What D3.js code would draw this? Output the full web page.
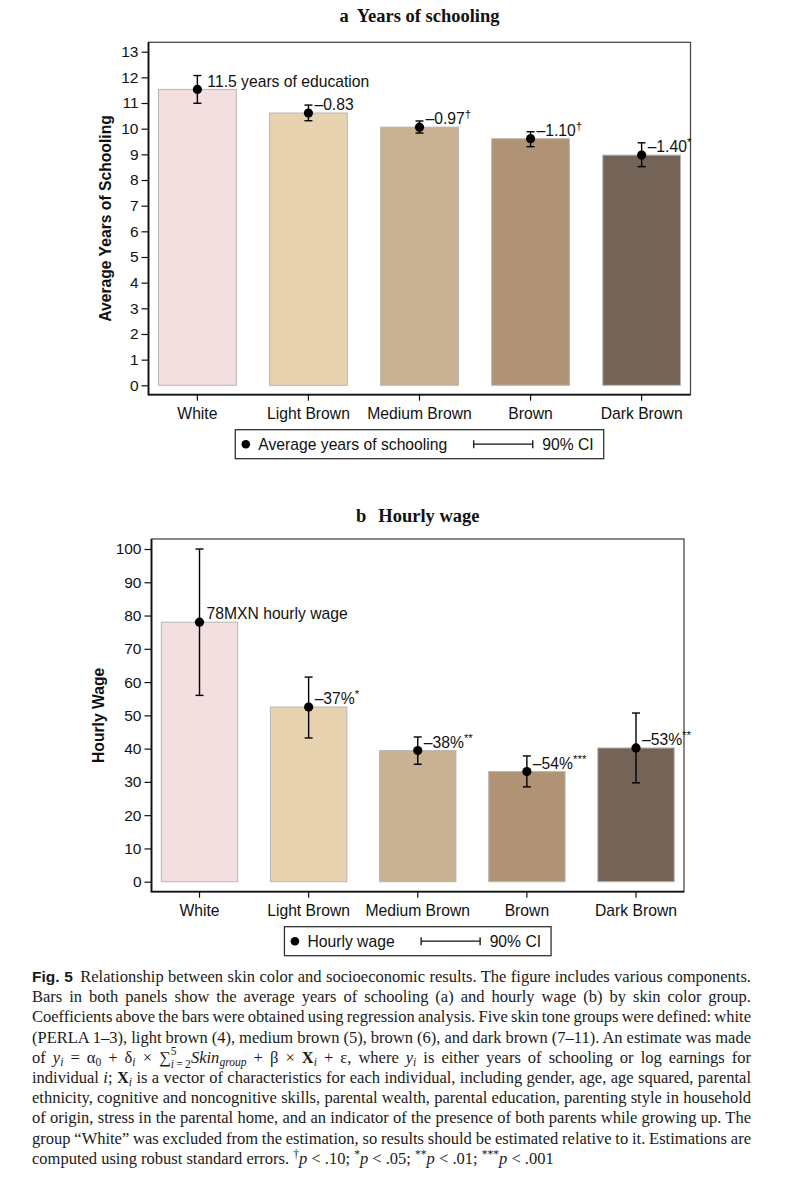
<!DOCTYPE html>
<html>
<head>
<meta charset="utf-8">
<title>Fig. 5 Skin color and socioeconomic results</title>
<script src="https://cdn.jsdelivr.net/npm/d3@7"></script>
<style>
  body { margin: 0; background: #fff; }
  svg { position: absolute; left: 0; top: 0; }
  .tick text { font-family: "Liberation Sans", Arial, sans-serif; font-size: 15.5px; fill: #111; }
  .tick line { stroke: #111; stroke-width: 1.2px; }
  .lab { font-family: "Liberation Sans", Arial, sans-serif; font-size: 15.7px; fill: #111; }
  .ptitle { font-family: "Liberation Serif", "Times New Roman", serif; font-weight: bold; font-size: 18.5px; fill: #111; }
  .ytitle { font-family: "Liberation Sans", Arial, sans-serif; font-weight: bold; font-size: 15.7px; fill: #111; }
  #caption { position: absolute; left: 32px; top: 967px; width: 719px;
    font-family: "Liberation Serif", "Times New Roman", serif; font-size: 16.5px; color: #1a1a1a; }
  #caption .ln { height: 20.2px; line-height: 20.2px; white-space: nowrap; }
  #caption .in { display: inline-block; white-space: nowrap; }
  #caption .fig { font-family: "Liberation Sans", Arial, sans-serif; font-size: 15.5px; margin-right: 3px; }
  #caption sub, #caption sup { font-size: 70%; line-height: 0; }
  #caption sub { vertical-align: -0.3em; }
  #caption sup { vertical-align: 0.5em; }
  #caption .lim { display: inline-block; position: relative; width: 1.75em; height: 0; font-size: 70%; }
  #caption .lu, #caption .ld { position: absolute; left: 0; line-height: 1; }
  #caption .lu { bottom: 0.45em; }
  #caption .ld { top: -0.3em; }
</style>
</head>
<body>
<div id="caption">
<div class="ln"><span class="in"><b class="fig">Fig. 5</b> Relationship between skin color and socioeconomic results. The figure includes various components.</span></div>
<div class="ln"><span class="in">Bars in both panels show the average years of schooling (a) and hourly wage (b) by skin color group.</span></div>
<div class="ln"><span class="in">Coefficients above the bars were obtained using regression analysis. Five skin tone groups were defined: white</span></div>
<div class="ln"><span class="in">(PERLA 1–3), light brown (4), medium brown (5), brown (6), and dark brown (7–11). An estimate was made</span></div>
<div class="ln"><span class="in">of <i>y</i><sub><i>i</i></sub> = α<sub>0</sub> + δ<sub><i>i</i></sub> × ∑<span class="lim"><span class="lu">5</span><span class="ld"><i>i</i>&#8201;=&#8201;2</span></span><i>Skin</i><sub><i>group</i></sub> + β × <b>X</b><sub><i>i</i></sub> + ε, where <i>y</i><sub><i>i</i></sub> is either years of schooling or log earnings for</span></div>
<div class="ln"><span class="in">individual <i>i</i>; <b>X</b><sub><i>i</i></sub> is a vector of characteristics for each individual, including gender, age, age squared, parental</span></div>
<div class="ln"><span class="in">ethnicity, cognitive and noncognitive skills, parental wealth, parental education, parenting style in household</span></div>
<div class="ln"><span class="in">of origin, stress in the parental home, and an indicator of the presence of both parents while growing up. The</span></div>
<div class="ln"><span class="in">group “White” was excluded from the estimation, so results should be estimated relative to it. Estimations are</span></div>
<div class="ln"><span class="in">computed using robust standard errors. <sup>†</sup><i>p</i> &lt; .10; <sup>*</sup><i>p</i> &lt; .05; <sup>**</sup><i>p</i> &lt; .01; <sup>***</sup><i>p</i> &lt; .001</span></div>
</div>
<script>
const groups = ["White", "Light Brown", "Medium Brown", "Brown", "Dark Brown"];
const skinColors = ["#f3dfdf", "#e8d3b1", "#c9b194", "#b09375", "#746357"];

// panel a: years of schooling
const schoolMean = [11.53, 10.61, 10.06, 9.61, 8.97];
const schoolLow = [10.99, 10.31, 9.83, 9.30, 8.52];
const schoolHigh = [12.07, 10.92, 10.30, 9.88, 9.45];
const schoolNote = ["11.5 years of education", "–0.83", "–0.97", "–1.10", "–1.40"];
const schoolSig = ["", "", "†", "†", "*"];
const schoolTicks = [0, 1, 2, 3, 4, 5, 6, 7, 8, 9, 10, 11, 12, 13];

// panel b: hourly wage
const wageMean = [78.0, 52.5, 39.4, 33.1, 40.2];
const wageLow = [56.0, 43.2, 35.3, 28.5, 29.7];
const wageHigh = [100.0, 61.5, 43.5, 37.8, 50.7];
const wageNote = ["78MXN hourly wage", "–37%", "–38%", "–54%", "–53%"];
const wageSig = ["", "*", "**", "***", "**"];
const wageTicks = [0, 10, 20, 30, 40, 50, 60, 70, 80, 90, 100];

var svg = d3.select("body").append("svg")
	.attr("width", 788)
	.attr("height", 965);

function panel(o) {
	var g = svg.append("g");
	var rows = groups.map(function(name, i) {
		return {name: name, color: skinColors[i], mean: o.mean[i], lo: o.low[i], hi: o.high[i], note: o.note[i], sig: o.sig[i], i: i};
	});

	var x = d3.scaleBand().domain(groups)
		.range([o.left, o.right])
		.paddingInner(0.3).paddingOuter(0.09);
	var y = d3.scaleLinear().domain([0, o.max])
		.range([o.bottom - o.pad, o.top + o.pad]);
	var cx = function(d) { return x(d.name) + x.bandwidth() / 2; };
	var mid = (o.left + o.right) / 2;

	// title
	var t = g.append("text").attr("class", "ptitle")
		.attr("x", mid).attr("y", o.titleY)
		.attr("text-anchor", "middle");
	t.append("tspan").text(o.titleKey);
	t.append("tspan").attr("dx", o.titleGap).text(o.title);

	// frame
	g.append("rect")
		.attr("x", o.left).attr("y", o.top)
		.attr("width", o.right - o.left).attr("height", o.bottom - o.top)
		.attr("fill", "none").attr("stroke", "#4a4a4a").attr("stroke-width", 1.3);
	g.append("path")
		.attr("d", "M" + o.left + "," + o.top + "V" + o.bottom + "H" + o.right)
		.attr("fill", "none").attr("stroke", "#111").attr("stroke-width", 1.8);

	// bars
	g.selectAll(".bar").data(rows).enter().append("rect")
		.attr("class", "bar")
		.attr("x", function(d) { return x(d.name); })
		.attr("width", x.bandwidth())
		.attr("y", function(d) { return y(d.mean); })
		.attr("height", function(d) { return y(0) - y(d.mean); })
		.attr("fill", function(d) { return d.color; })
		.attr("stroke", "#bcb4af").attr("stroke-width", 1);

	// 90% CI
	var ci = g.selectAll(".ci").data(rows).enter().append("g").attr("class", "ci")
		.attr("stroke", "#000").attr("stroke-width", 1.4);
	ci.append("line")
		.attr("x1", cx).attr("x2", cx)
		.attr("y1", function(d) { return y(d.lo); })
		.attr("y2", function(d) { return y(d.hi); });
	ci.append("line")
		.attr("x1", function(d) { return cx(d) - 4; }).attr("x2", function(d) { return cx(d) + 4; })
		.attr("y1", function(d) { return y(d.lo); }).attr("y2", function(d) { return y(d.lo); });
	ci.append("line")
		.attr("x1", function(d) { return cx(d) - 4; }).attr("x2", function(d) { return cx(d) + 4; })
		.attr("y1", function(d) { return y(d.hi); }).attr("y2", function(d) { return y(d.hi); });

	g.selectAll(".dot").data(rows).enter().append("circle")
		.attr("class", "dot")
		.attr("cx", cx).attr("cy", function(d) { return y(d.mean); })
		.attr("r", 4.6).attr("fill", "#000");

	// coefficient labels
	var notes = g.selectAll(".note").data(rows).enter().append("text")
		.attr("class", "lab")
		.attr("x", function(d) { return cx(d) + (d.i === 0 ? o.firstDx : 6); })
		.attr("y", function(d) { return y(d.mean) - 2.8; });
	notes.append("tspan").text(function(d) { return d.note; });
	notes.append("tspan")
		.attr("dy", -6).attr("font-size", "11.5px")
		.text(function(d) { return d.sig; });

	// axes
	var ya = g.append("g")
		.attr("transform", "translate(" + o.left + ",0)")
		.call(d3.axisLeft(y).tickValues(o.ticks).tickSize(7).tickPadding(3));
	ya.select(".domain").remove();

	var xa = g.append("g")
		.attr("transform", "translate(0," + o.bottom + ")")
		.call(d3.axisBottom(x).tickSize(6).tickPadding(7));
	xa.select(".domain").remove();
	xa.selectAll("text").style("font-size", "15.7px");

	g.append("text").attr("class", "ytitle")
		.attr("transform", "translate(" + o.yTitleX + "," + (o.top + o.bottom) / 2 + ") rotate(-90)")
		.attr("text-anchor", "middle").attr("dy", "0.35em")
		.text(o.yTitle);

	// legend
	var lg = g.append("g");
	var ly = o.bottom + 35, lh = 29, lc = ly + lh / 2;
	var box = lg.append("rect").attr("y", ly).attr("height", lh)
		.attr("fill", "#fff").attr("stroke", "#333").attr("stroke-width", 1.3);
	var dot = lg.append("circle").attr("cy", lc).attr("r", 4.3).attr("fill", "#000");
	var t1 = lg.append("text").attr("class", "lab").attr("y", lc).attr("dy", "0.35em").text(o.legend);
	var cil = lg.append("path").attr("fill", "none").attr("stroke", "#111").attr("stroke-width", 1.3);
	var t2 = lg.append("text").attr("class", "lab").attr("y", lc).attr("dy", "0.35em").text("90% CI");

	var w1 = t1.node().getComputedTextLength();
	var w2 = t2.node().getComputedTextLength();
	var total = 23 + w1 + 26.5 + 59 + 9.5 + w2 + 10;
	var lx = mid - total / 2;
	box.attr("x", lx).attr("width", total);
	dot.attr("cx", lx + 10.5);
	t1.attr("x", lx + 23);
	var c0 = lx + 23 + w1 + 26.5, c1 = c0 + 59;
	cil.attr("d", "M" + c0 + "," + (lc - 4) + "V" + (lc + 4) + "M" + c0 + "," + lc + "H" + c1 + "M" + c1 + "," + (lc - 4) + "V" + (lc + 4));
	t2.attr("x", c1 + 9.5);
}

panel({
	left: 148.5, right: 690.5, top: 42.3, bottom: 394.7, pad: 9.4, max: 13,
	mean: schoolMean, low: schoolLow, high: schoolHigh, note: schoolNote, sig: schoolSig, ticks: schoolTicks,
	titleKey: "a", titleGap: 8, title: "Years of schooling", titleY: 21.7,
	yTitle: "Average Years of Schooling", yTitleX: 105, legend: "Average years of schooling", firstDx: 10
});

panel({
	left: 151.5, right: 684, top: 539, bottom: 891.7, pad: 10, max: 100,
	mean: wageMean, low: wageLow, high: wageHigh, note: wageNote, sig: wageSig, ticks: wageTicks,
	titleKey: "b", titleGap: 12, title: "Hourly wage", titleY: 521.7,
	yTitle: "Hourly Wage", yTitleX: 98, legend: "Hourly wage", firstDx: 7
});

// justify caption lines (last line stays ragged)
var lines = d3.selectAll("#caption .in").nodes();
lines.forEach(function(el, i) {
	if (i === lines.length - 1) return;
	var w = el.getBoundingClientRect().width;
	var n = (el.textContent.match(/[ \u00a0]/g) || []).length;
	if (n > 0) el.style.wordSpacing = ((719 - w) / n) + "px";
});
</script>
</body>
</html>
